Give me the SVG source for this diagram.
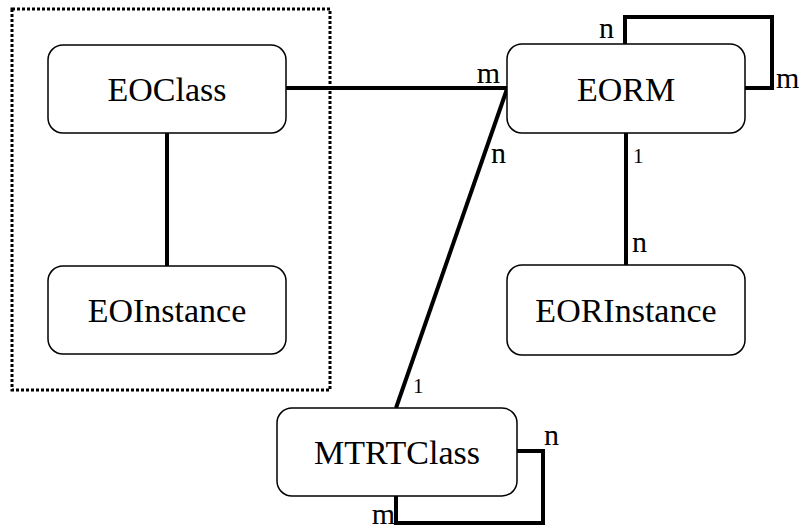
<svg xmlns="http://www.w3.org/2000/svg" width="799" height="529" viewBox="0 0 799 529">
<style>
.node{fill:#fff;stroke:#000;stroke-width:1.5}
text{font-family:'Liberation Serif','Times New Roman',Times,'DejaVu Serif',serif;fill:#000}
.lbl{font-size:34px;text-anchor:middle}
.card{font-size:30px}
.one{font-size:21px}
.conn{fill:none;stroke:#000;stroke-width:4}
</style>
<rect x="12" y="9" width="318" height="381" fill="none" stroke="#000" stroke-width="3" stroke-dasharray="3,2"/>
<g id="connectors">
<line class="conn" x1="167" y1="133" x2="167" y2="266"/>
<line class="conn" x1="286" y1="88" x2="507" y2="88"/>
<line class="conn" x1="507" y1="89" x2="396" y2="408"/>
<line class="conn" x1="626" y1="133" x2="626" y2="265"/>
<polyline class="conn" points="625,44 625,17 772,17 772,88 745,88"/>
<polyline class="conn" points="517,451 543,451 543,523 396,523 396,496"/>
</g>
<g id="EOClass"><rect class="node" x="48" y="45" width="238" height="88" rx="15"/><text class="lbl" x="167" y="101">EOClass</text></g>
<g id="EOInstance"><rect class="node" x="48" y="266" width="238" height="88" rx="15"/><text class="lbl" x="167" y="322">EOInstance</text></g>
<g id="EORM"><rect class="node" x="507" y="44" width="238" height="89" rx="15"/><text class="lbl" x="626" y="101">EORM</text></g>
<g id="EORInstance"><rect class="node" x="507" y="265" width="238" height="90" rx="15"/><text class="lbl" x="626" y="322">EORInstance</text></g>
<g id="MTRTClass"><rect class="node" x="277" y="408" width="240" height="88" rx="15"/><text class="lbl" x="397" y="464">MTRTClass</text></g>
<g id="labels">
<text class="card" x="614" y="38" text-anchor="end">n</text>
<text class="card" x="776" y="88">m</text>
<text class="card" x="500" y="83" text-anchor="end">m</text>
<text class="card" x="491" y="163">n</text>
<text class="one" x="633" y="163">1</text>
<text class="card" x="632" y="252">n</text>
<text class="one" x="413" y="393">1</text>
<text class="card" x="544" y="445">n</text>
<text class="card" x="395" y="524" text-anchor="end">m</text>
</g>
</svg>
